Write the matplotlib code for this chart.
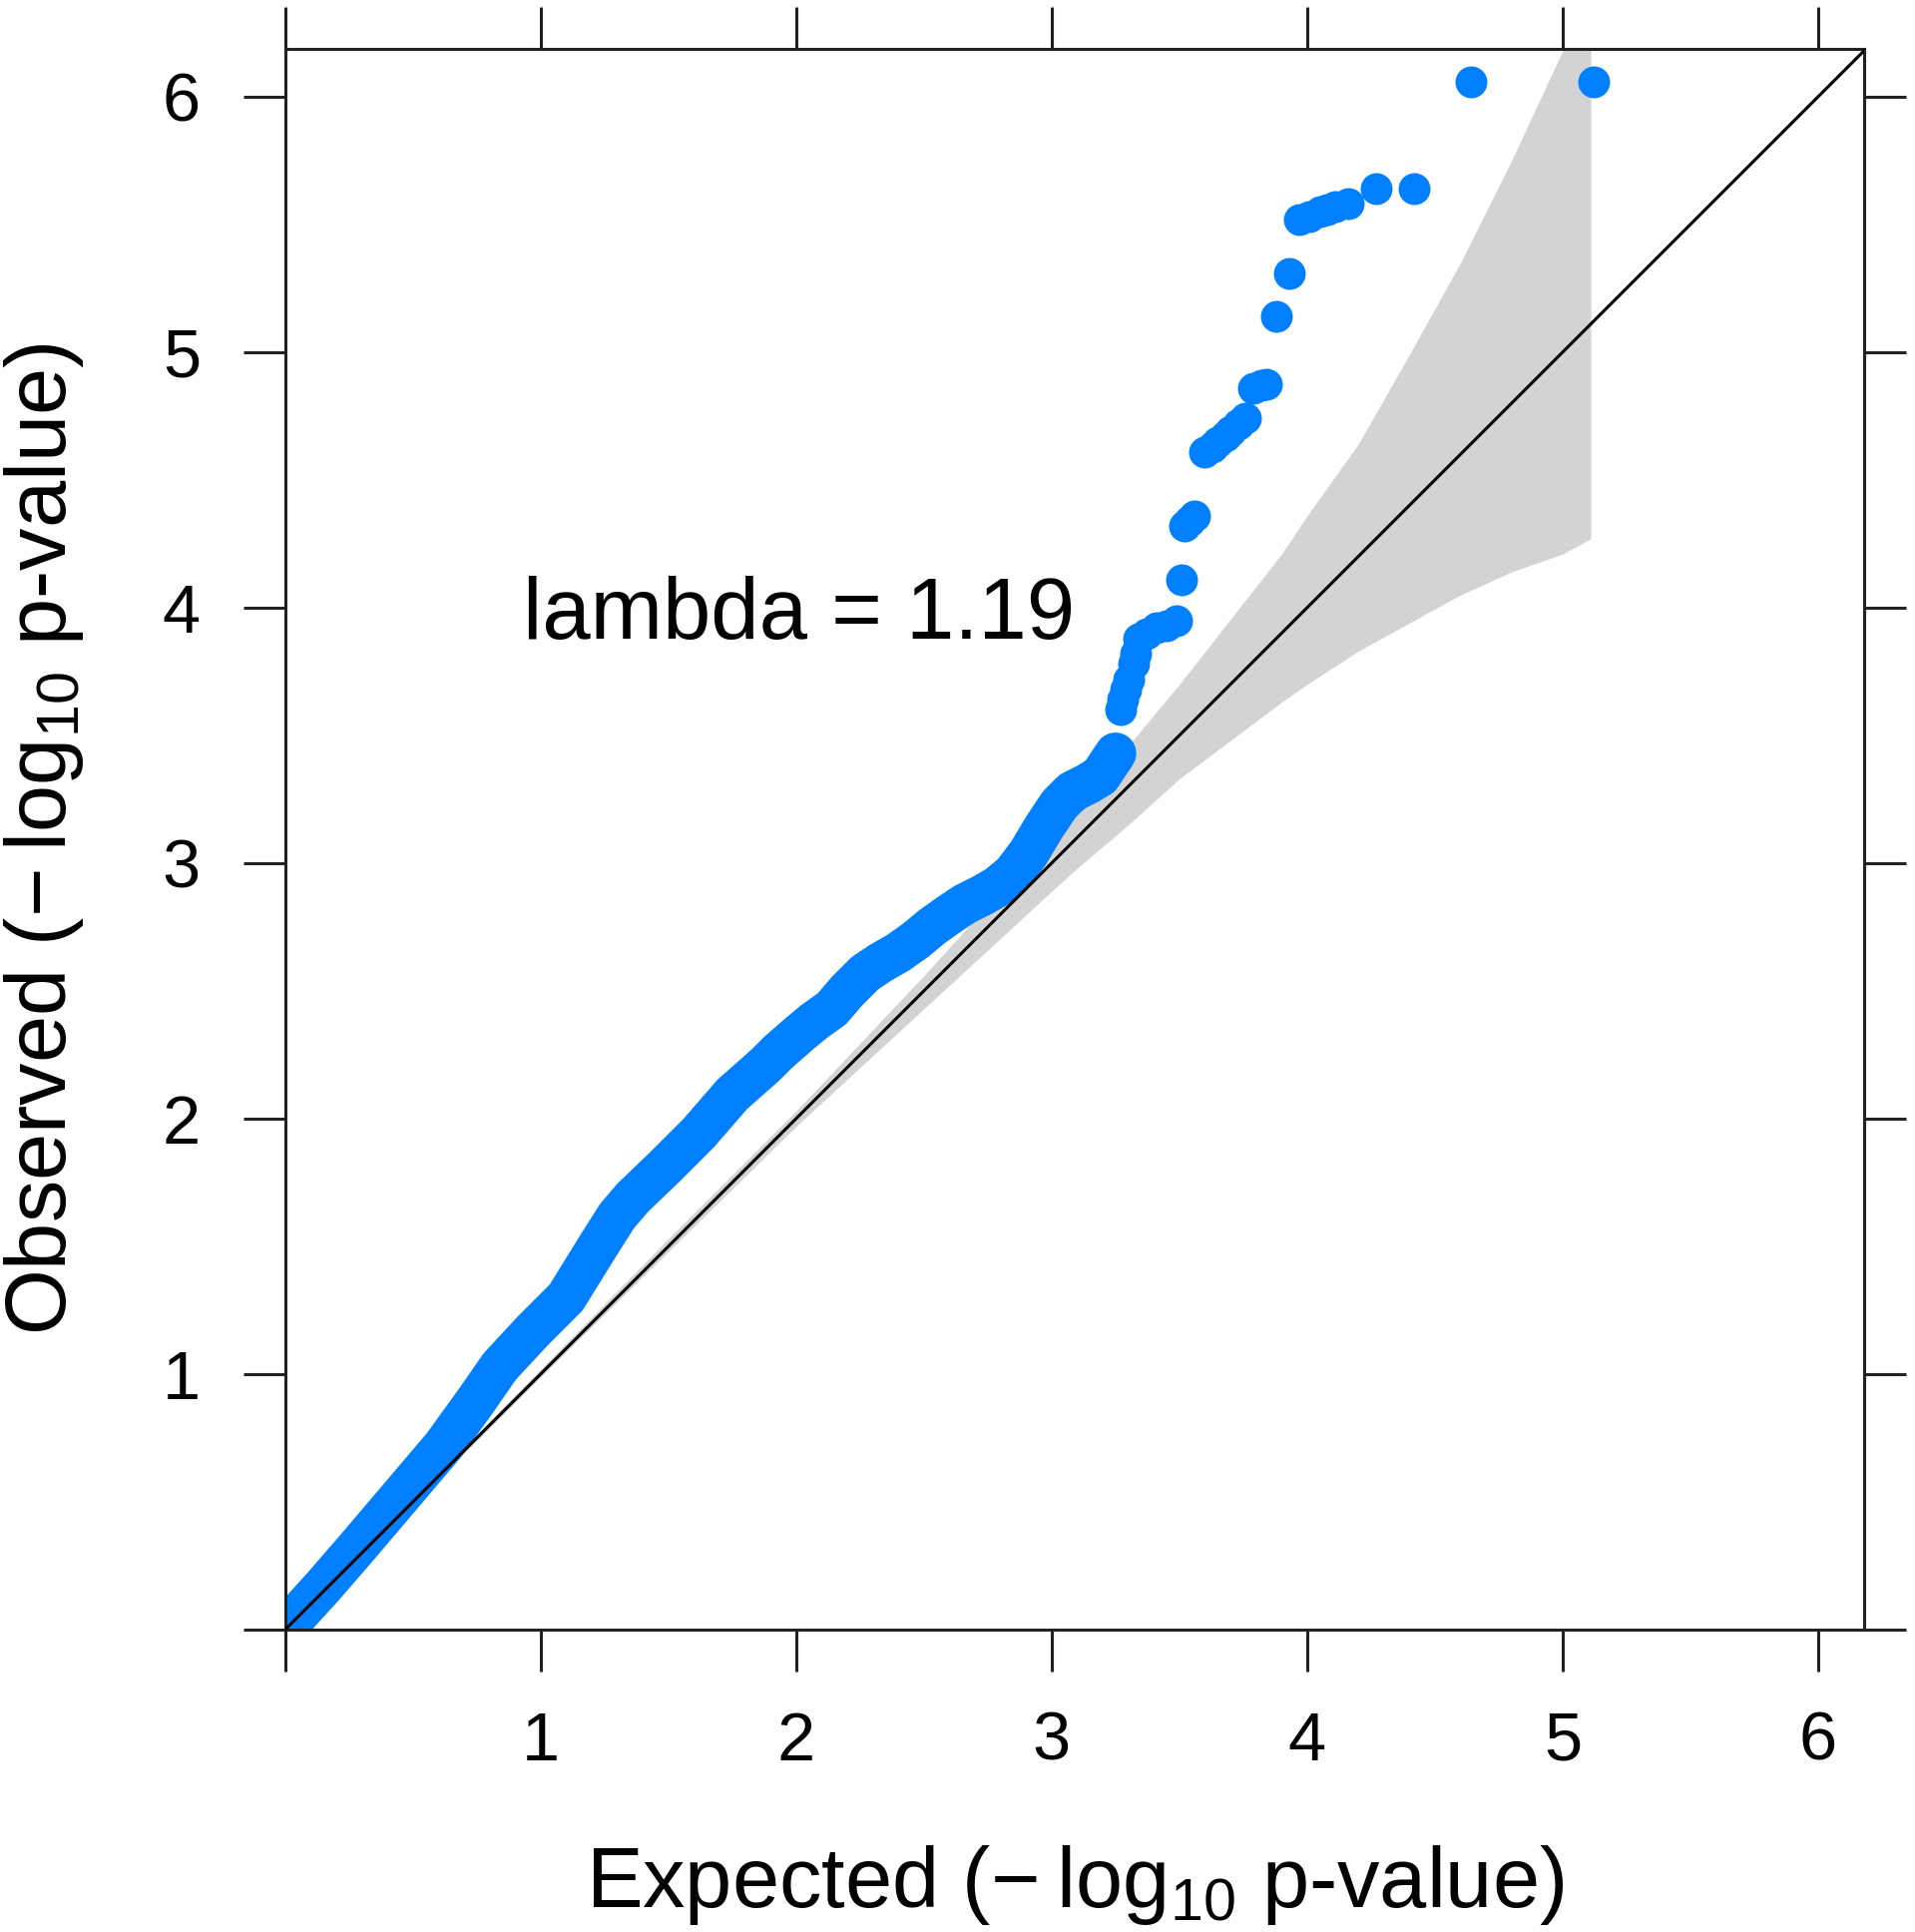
import matplotlib
matplotlib.use("Agg")
import matplotlib.pyplot as plt

plt.rcParams['font.family'] = ['Liberation Sans', 'DejaVu Sans']
plt.rcParams['mathtext.fontset'] = 'custom'
plt.rcParams['mathtext.rm'] = 'Liberation Sans'
plt.rcParams['mathtext.it'] = 'Liberation Sans'
plt.rcParams['mathtext.bf'] = 'Liberation Sans'

# ---- data ----
# dense part of the observed vs expected curve
dense_expected = [0.00, 0.05, 0.15, 0.28, 0.45, 0.62, 0.75, 0.84, 0.97, 1.10,
                  1.23, 1.30, 1.36, 1.49, 1.62, 1.75, 1.88, 1.93, 2.01, 2.07,
                  2.14, 2.20, 2.27, 2.33, 2.40, 2.47, 2.53, 2.60, 2.66, 2.73,
                  2.79, 2.85, 2.91, 2.97, 3.03, 3.08, 3.14, 3.19, 3.25]
dense_observed = [0.00, 0.06, 0.17, 0.32, 0.52, 0.72, 0.90, 1.03, 1.17, 1.30,
                  1.51, 1.62, 1.69, 1.815, 1.945, 2.095, 2.21, 2.26, 2.33, 2.38,
                  2.43, 2.50, 2.57, 2.61, 2.65, 2.70, 2.75, 2.80, 2.84, 2.875,
                  2.91, 2.96, 3.04, 3.14, 3.23, 3.28, 3.31, 3.34, 3.43]
# individual top points
top_expected = [3.27, 3.28, 3.29, 3.30, 3.32, 3.33, 3.34, 3.37, 3.41, 3.45, 3.49,
                3.51, 3.52, 3.54, 3.56, 3.60, 3.63, 3.65, 3.68, 3.70, 3.73, 3.76,
                3.79, 3.82, 3.84, 3.88, 3.93, 3.97, 4.01, 4.05, 4.08, 4.11, 4.16,
                4.27, 4.42, 4.64, 5.12]
top_observed = [3.60, 3.64, 3.68, 3.72, 3.78, 3.82, 3.88, 3.90, 3.92, 3.93, 3.95,
                4.11, 4.32, 4.34, 4.36, 4.61, 4.63, 4.65, 4.67, 4.69, 4.72, 4.74,
                4.86, 4.87, 4.875, 5.14, 5.31, 5.52, 5.53, 5.55, 5.56, 5.57, 5.58,
                5.64, 5.64, 6.06, 6.06]
# 95% confidence band
band_x = [0.0, 0.5, 1.0, 1.5, 2.0, 2.5, 3.0, 3.1, 3.3, 3.5, 3.9, 4.0, 4.2, 4.4,
          4.6, 4.8, 5.0, 5.11]
band_upper = [0.0, 0.51, 1.02, 1.53, 2.03, 2.56, 3.11, 3.23, 3.46, 3.70, 4.21, 4.36,
              4.64, 4.99, 5.35, 5.75, 6.18, 6.42]
band_lower = [0.0, 0.49, 0.99, 1.48, 1.97, 2.43, 2.89, 2.98, 3.15, 3.33, 3.63, 3.70,
              3.83, 3.94, 4.05, 4.14, 4.21, 4.27]
ticks = [0, 1, 2, 3, 4, 5, 6]
tick_labels = ['', '1', '2', '3', '4', '5', '6']
lambda_text = 'lambda = 1.19'

# ---- figure ----
W, H = 1919, 1936
fig = plt.figure(figsize=(W / 100, H / 100), dpi=100)
ax = fig.add_axes([285.7 / W, (H - 1633) / H, (1868 - 285.7) / W, (1633 - 49.3) / H])
ax.set_xlim(0, 6.18)
ax.set_ylim(0, 6.186)

blue = '#0080FF'
ax.fill_between(band_x, band_lower, band_upper, color='#D3D3D3', lw=0, zorder=1)
ax.plot(dense_expected, dense_observed, '-', color=blue, lw=30,
        solid_capstyle='round', solid_joinstyle='round', zorder=2)
ax.plot(dense_expected, dense_observed, 'o', color=blue, ms=23, mec='none', zorder=2)
ax.plot(top_expected, top_observed, 'o', color=blue, ms=23, mec='none', zorder=2)
ax.plot([0, 6.18], [0, 6.18], color='black', lw=2.2, zorder=3)

ax.text(0.93, 3.879, lambda_text, fontsize=62.6, ha='left', va='baseline', zorder=4)

for s in ax.spines.values():
    s.set_linewidth(2.2)
    s.set_color('#222222')
ax.set_xticks(ticks)
ax.set_yticks(ticks)
ax.set_xticklabels(tick_labels)
ax.set_yticklabels(tick_labels)
ax.tick_params(axis='both', which='both', direction='out', length=30, width=2.2,
               color='#222222', labelsize=49.3, top=True, right=True,
               labeltop=False, labelright=False)
ax.tick_params(axis='x', pad=28)
ax.tick_params(axis='y', pad=31)

label_fs = 61
fig.text(1077 / W, (H - 1911) / H, 'Expected (−\u2009log$_{10}$ p-value)',
         fontsize=label_fs, ha='center', va='baseline')
fig.text(44 / W, (H - 841) / H, 'Observed (−\u2009log$_{10}$ p-value)',
         fontsize=label_fs, ha='center', va='center', rotation=90)

fig.savefig('out.png', dpi=100, facecolor='white')
